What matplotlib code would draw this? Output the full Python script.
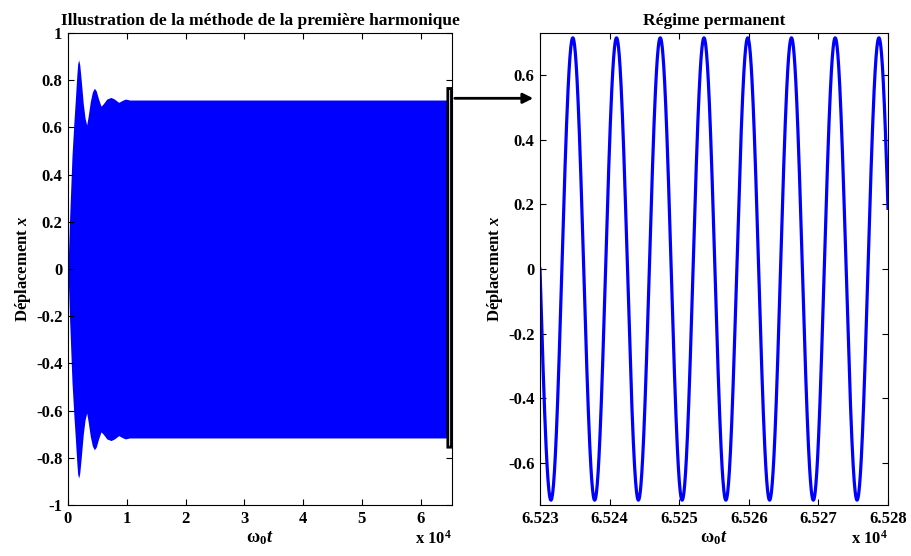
import numpy as np
import matplotlib.pyplot as plt
from matplotlib.patches import FancyBboxPatch, FancyArrowPatch

plt.rcParams['font.family'] = ['Liberation Serif', 'DejaVu Serif']
plt.rcParams['font.weight'] = 'bold'
plt.rcParams['axes.labelweight'] = 'bold'
plt.rcParams['axes.titleweight'] = 'bold'
plt.rcParams['axes.unicode_minus'] = False
plt.rcParams['mathtext.fontset'] = 'custom'
plt.rcParams['mathtext.rm'] = 'Liberation Serif:bold'
plt.rcParams['mathtext.it'] = 'Liberation Serif:italic:bold'
plt.rcParams['mathtext.bf'] = 'Liberation Serif:bold'

# enveloppe du transitoire : temps omega0*t, amplitude
env_t = [0, 250, 680, 1000, 1245, 1500, 1650, 1820, 2000, 2250, 2600, 2900,
         3180, 3450, 3800, 4150, 4480, 4800, 5200, 5620, 6000, 6600, 7320,
         7900, 8630, 9200, 9760, 10500, 65300]
env_amp = [0.0, 0.2, 0.48, 0.62, 0.716, 0.82, 0.87, 0.886, 0.865, 0.80, 0.70,
           0.64, 0.61, 0.65, 0.71, 0.75, 0.766, 0.755, 0.72, 0.69, 0.70, 0.72,
           0.727, 0.72, 0.706, 0.714, 0.72, 0.716, 0.716]

# regime permanent
zoom_start = 65230
zoom_end = 65280
amp_perm = 0.715
omega = 1.0          # periode ~ 2*pi en omega0*t

left_ticks = [0, 1e4, 2e4, 3e4, 4e4, 5e4, 6e4]
right_ticks = [65230, 65240, 65250, 65260, 65270, 65280]


def fmt(v):
    v = round(v, 1) + 0.0
    return f'{v:g}'


fig = plt.figure(figsize=(9.12, 5.56), dpi=100)
ax1 = fig.add_axes([68/912, 51/556, 384/912, 472/556])
ax2 = fig.add_axes([540/912, 51/556, 348/912, 472/556])

blue = (0, 0, 1)

# --- gauche
env_t = np.array(env_t)
env_amp = np.array(env_amp)
ax1.fill_between(env_t, -env_amp, env_amp, color=blue, lw=0)
ax1.set_xlim(0, 6.533e4)
ax1.set_ylim(-1, 1)
ax1.set_xticks(left_ticks)
ax1.set_xticklabels([f'{v/1e4:g}' for v in left_ticks])
yl = np.arange(-1, 1.01, 0.2)
ax1.set_yticks(yl)
ax1.set_yticklabels([fmt(v) for v in yl])
ax1.set_title('Illustration de la méthode de la première harmonique',
              fontsize=12.5, pad=6)
ax1.set_ylabel(r'Déplacement $x$', fontsize=12, labelpad=2)
ax1.set_xlabel(r'$\mathrm{\omega}_0t$', fontsize=13, labelpad=2)
ax1.text(1.0, -0.083, r'x 10$^4$', transform=ax1.transAxes, ha='right',
         va='baseline', fontsize=12)

rect = FancyBboxPatch((6.462e4, -0.755), 0.062e4, 1.52,
                      boxstyle='round,pad=0,rounding_size=0.01',
                      mutation_aspect=1, fc='white', ec='black', lw=2,
                      zorder=5, clip_on=False)
ax1.add_patch(rect)

# --- droite
t = np.linspace(zoom_start, zoom_end, 2000)
x = -amp_perm * np.sin(omega * (t - zoom_start))
ax2.plot(t, x, color=blue, lw=2.3)
ax2.set_xlim(zoom_start, zoom_end)
ax2.set_ylim(-0.73, 0.73)
ax2.set_xticks(right_ticks)
ax2.set_xticklabels([f'{v/1e4:.3f}' for v in right_ticks])
yt = np.arange(-0.6, 0.61, 0.2)
ax2.set_yticks(yt)
ax2.set_yticklabels([fmt(v) for v in yt])
ax2.set_title('Régime permanent', fontsize=12.5, pad=6)
ax2.set_ylabel(r'Déplacement $x$', fontsize=12, labelpad=2)
ax2.set_xlabel(r'$\mathrm{\omega}_0t$', fontsize=13, labelpad=2)
ax2.text(1.0, -0.083, r'x 10$^4$', transform=ax2.transAxes, ha='right',
         va='baseline', fontsize=12)

for ax in (ax1, ax2):
    ax.tick_params(direction='in', top=True, right=True, length=4,
                   width=0.8, labelsize=12, pad=4)
    for s in ax.spines.values():
        s.set_linewidth(0.8)

fig.patches.append(FancyArrowPatch(
    (452/912, 1 - 98.3/556), (536/912, 1 - 98.3/556),
    transform=fig.transFigure, arrowstyle='-|>,head_length=6,head_width=3',
    color='black', lw=2, mutation_scale=1))

fig.savefig('out.png', dpi=100)
